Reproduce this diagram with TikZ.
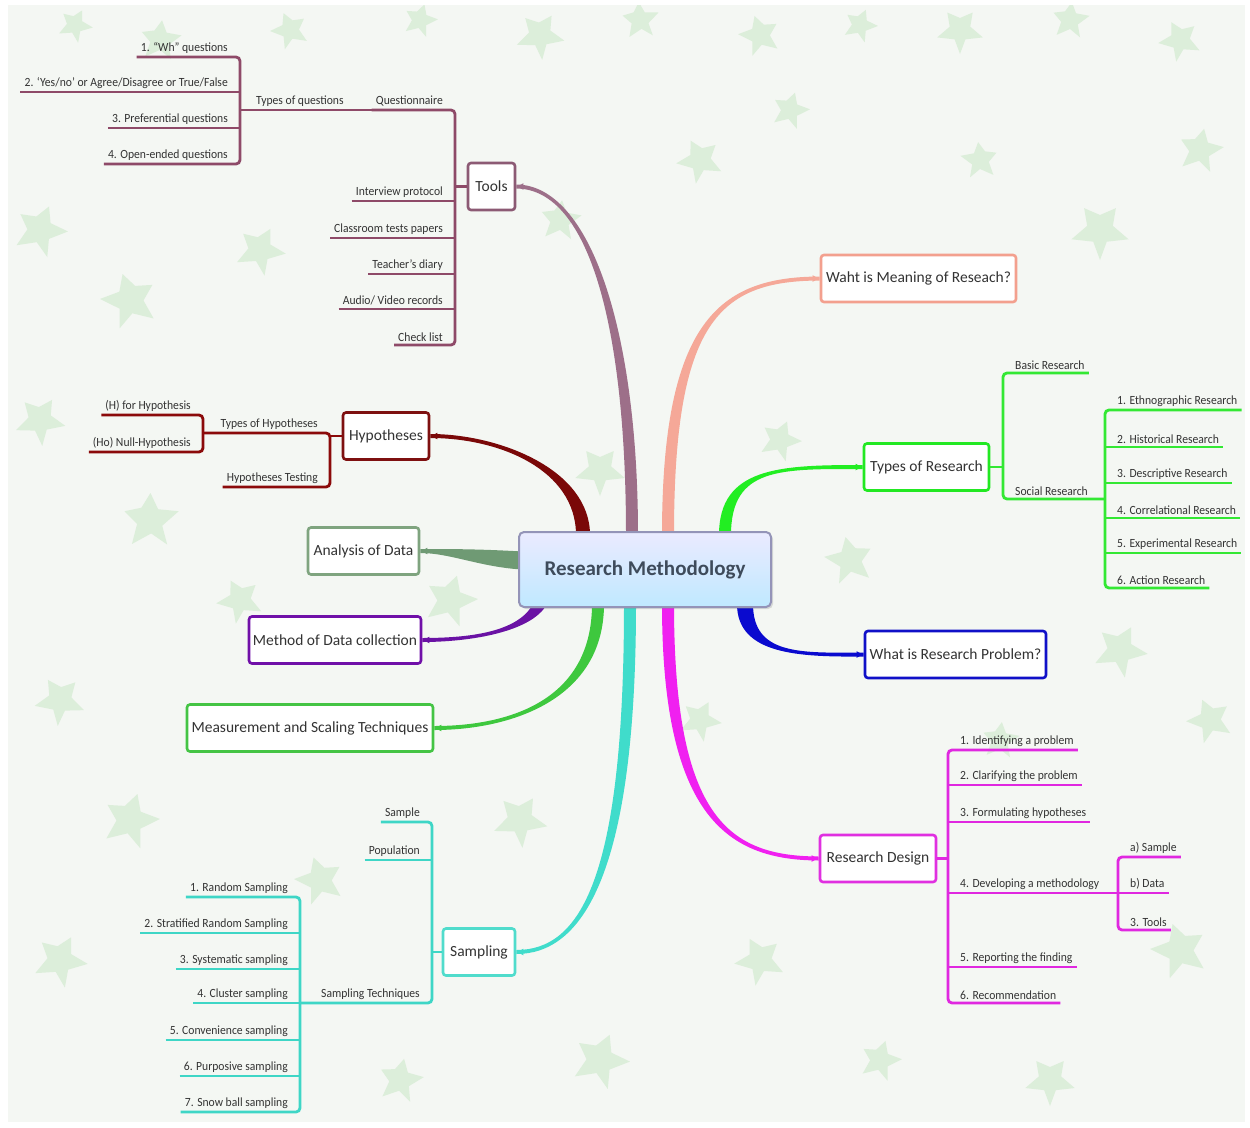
\documentclass[tikz,border=0pt]{standalone}
\usepackage{fontspec}
\setmainfont{Carlito}
\newfontfamily\labfont{Carlito}[FakeStretch=0.93]
\usetikzlibrary{calc,arrows.meta,shadows}
\definecolor{bgc}{HTML}{F4F7F3}
\definecolor{leafc}{HTML}{DCEEDA}
\definecolor{txt}{HTML}{333333}
\definecolor{roottxt}{HTML}{3E4B5B}
% node borders
\definecolor{nTools}{HTML}{8C5A74}
\definecolor{nMean}{HTML}{F3A08E}
\definecolor{nTor}{HTML}{22E822}
\definecolor{nRp}{HTML}{1010C8}
\definecolor{nRd}{HTML}{E030E0}
\definecolor{nSamp}{HTML}{50DCCC}
\definecolor{nMst}{HTML}{44C444}
\definecolor{nMdc}{HTML}{7010A8}
\definecolor{nAod}{HTML}{7FA47F}
\definecolor{nHyp}{HTML}{7E1010}
% branches
\definecolor{bTools}{HTML}{9D6F89}
\definecolor{bMean}{HTML}{F5A898}
\definecolor{bTor}{HTML}{22EE22}
\definecolor{bRp}{HTML}{0A0ACF}
\definecolor{bRd}{HTML}{F020F0}
\definecolor{bSamp}{HTML}{40DCCB}
\definecolor{bMst}{HTML}{3EC83E}
\definecolor{bMdc}{HTML}{6A12A4}
\definecolor{bAod}{HTML}{6F9A74}
\definecolor{bHyp}{HTML}{7A0808}
% sub lines
\definecolor{lTools}{HTML}{8E4A68}
\definecolor{lHyp}{HTML}{8B0A0A}
\definecolor{lTor}{HTML}{33E833}
\definecolor{lRd}{HTML}{E028E0}
\definecolor{lSamp}{HTML}{3ED6C6}
\pgfdeclarelayer{back}
\pgfdeclarelayer{links}
\pgfsetlayers{back,links,main}
\newcommand\mybranch[8]{%
  \fill[#1] ($(#2)+#6$) .. controls ($#3+#6$) and ($#4+#7$) .. ($(#5)+#7$)
     -- ($(#5)-#7$) .. controls ($#4-#7$) and ($#3-#6$) .. ($(#2)-#6$) -- cycle;
  \draw[#1, line width=1.6pt, -{Latex[length=7pt,width=7pt]}] ($(#5)+#8$) -- (#5);
}
\tikzset{
  leaf/.pic={\fill[leafc] (90:1) -- (120:0.45) -- (162:1) -- (198:0.45) -- (234:0.9)
     -- (270:0.5) -- (306:0.9) -- (342:0.45) -- (18:1) -- (60:0.45) -- cycle;},
  labL/.style={font=\labfont\fontsize{12.5}{14}\selectfont, text=txt, inner xsep=4pt, inner ysep=3.5pt, anchor=south east},
  labR/.style={font=\labfont\fontsize{12.5}{14}\selectfont, text=txt, inner xsep=4pt, inner ysep=3.5pt, anchor=south west},
  mnode/.style={draw=#1, line width=2.6pt, rounded corners=3pt, fill=white, text=txt,
     font=\fontsize{15.5}{18}\selectfont, minimum height=47pt, inner sep=2pt},
  sl/.style={line width=2.8pt, draw=#1},
  slr/.style={line width=2.8pt, draw=#1, rounded corners=4pt},
}
\begin{document}
\begin{tikzpicture}[x=1pt,y=-1pt]
\useasboundingbox (0,0) rectangle (1250,1127);
\begin{pgfonlayer}{back}
\fill[white] (0,0) rectangle (1250,1127);
\fill[bgc] (8,5) rectangle (1245,1122);
\begin{scope}
\clip (8,5) rectangle (1245,1122);
\foreach \x/\y/\s/\r in {75/25/18/10,160/40/22/30,290/30/20/-15,420/20/18/20,540/35/25/5,640/20/20/40,760/35/22/-20,860/25/18/15,960/30/24/0,1070/20/20/30,1180/40/22/-10,
  40/230/28/15,130/300/30/-20,260/250/26/10,560/220/22/30,700/160/24/-10,790/110/20/20,1100/230/30/0,1200/150/24/25,980/160/20/-30,
  40/420/26/5,150/520/30/35,240/600/24/-10,450/600/28/20,600/470/26/0,780/440/22/15,850/560/26/-25,1120/650/28/10,1210/720/24/-15,1000/740/20/30,
  60/700/26/-5,130/820/30/20,60/960/28/10,320/880/26/-20,520/820/28/5,600/1060/30/15,760/960/26/-10,880/1060/22/20,1050/1080/26/0,1180/950/30/-20,400/1080/24/25,700/720/22/10}
  \pic[scale=\s, rotate=\r] at (\x,\y) {leaf};
\end{scope}
\end{pgfonlayer}

% root
\node[draw=gray!80!blue!70, line width=2pt, rounded corners=5pt, top color=blue!8!white, bottom color=blue!35!cyan!25!white,
  minimum width=252pt, minimum height=75pt, text=roottxt, font=\fontsize{21}{24}\selectfont\bfseries,
  drop shadow={opacity=0.25, shadow xshift=2pt, shadow yshift=-2pt}] (root) at (645,569.5) {Research Methodology};

% main nodes
\node[mnode=nTools, minimum width=47pt] (tools) at (491.5,186.5) {Tools};
\node[mnode=nMean, minimum width=195pt] (mean) at (918.5,278.5) {Waht is Meaning of Reseach?};
\node[mnode=nTor, minimum width=125pt] (tor) at (926.5,467) {Types of Research};
\node[mnode=nRp, minimum width=181pt] (rp) at (955.5,654.5) {What is Research Problem?};
\node[mnode=nRd, minimum width=116pt] (rd) at (878,858.5) {Research Design};
\node[mnode=nSamp, minimum width=72pt] (samp) at (479,952) {Sampling};
\node[mnode=nMst, minimum width=246pt] (mst) at (310,728) {Measurement and Scaling Techniques};
\node[mnode=nMdc, minimum width=172pt] (mdc) at (335,640) {Method of Data collection};
\node[mnode=nAod, minimum width=111pt] (aod) at (363.5,551) {Analysis of Data};
\node[mnode=nHyp, minimum width=86pt] (hyp) at (386,436) {Hypotheses};

% branch starts
\coordinate (sHyp) at ($(root.north)+(-62,4)$);
\coordinate (sTools) at ($(root.north)+(-13,4)$);
\coordinate (sMean) at ($(root.north)+(23,4)$);
\coordinate (sTor) at ($(root.north)+(80,4)$);
\coordinate (sRp) at ($(root.south)+(100,-4)$);
\coordinate (sRd) at ($(root.south)+(23,-4)$);
\coordinate (sSamp) at ($(root.south)+(-15,-4)$);
\coordinate (sMst) at ($(root.south)+(-47,-4)$);
\coordinate (sMdc) at ($(root.south)+(-105,-4)$);
\coordinate (sAod) at ($(root.west)+(4,-9)$);

\begin{pgfonlayer}{links}
\mybranch{bHyp}{sHyp}{(583,470)}{(500,436)}{hyp.east}{(-7,0)}{(0,2)}{(9,0)}
\mybranch{bTools}{sTools}{(632,330)}{(590,187)}{tools.east}{(-6,0)}{(0,2)}{(9,0)}
\mybranch{bMean}{sMean}{(668,320)}{(720,279)}{mean.west}{(-6,0)}{(0,-2)}{(-9,0)}
\mybranch{bTor}{sTor}{(725,467)}{(780,467)}{tor.west}{(-6,0)}{(0,-2)}{(-9,0)}
\mybranch{bRp}{sRp}{(745,655)}{(800,655)}{rp.west}{(8,0)}{(0,-2)}{(-9,0)}
\mybranch{bRd}{sRd}{(668,820)}{(730,858)}{rd.west}{(6,0)}{(0,-2)}{(-9,0)}
\mybranch{bSamp}{sSamp}{(630,880)}{(580,952)}{samp.east}{(6,0)}{(0,2)}{(9,0)}
\mybranch{bMst}{sMst}{(598,700)}{(510,728)}{mst.east}{(6,0)}{(0,2)}{(9,0)}
\mybranch{bMdc}{sMdc}{(525,632)}{(470,640)}{mdc.east}{(7,0)}{(0,2)}{(9,0)}
\mybranch{bAod}{sAod}{(480,558)}{(450,551)}{aod.east}{(0,9)}{(0,2)}{(9,0)}
\end{pgfonlayer}

% ---- Tools subtree
\coordinate (tb) at (455,0);
\coordinate (tq) at (240,0);
\node[labL] (quest) at (447,110) {Questionnaire};
\node[labL] (ip) at (447,201) {Interview protocol};
\node[labL] (ctp) at (447,238) {Classroom tests papers};
\node[labL] (td) at (447,274) {Teacher’s diary};
\node[labL] (avr) at (447,309) {Audio/ Video records};
\node[labL] (cl) at (447,345) {Check list};
\node[labR] (toq) at (252,110) {Types of questions};
\node[labL] (q1) at (232,57) {1. “Wh” questions};
\node[labL] (q2) at (232,92) {2. ‘Yes/no’ or Agree/Disagree or True/False};
\node[labL] (q3) at (232,128) {3. Preferential questions};
\node[labL] (q4) at (232,164) {4. Open-ended questions};
\draw[slr=lTools] (quest.south west) -| (tb |- cl.south) -- (cl.south west);
\draw[sl=lTools] (tq |- toq.south) -- (quest.south west);
\foreach \n in {ip,ctp,td,avr} \draw[sl=lTools] (\n.south west) -- (tb |- \n.south);
\draw[sl=lTools] (tools.west) -- (tb |- tools.west);
\draw[slr=lTools] (q1.south west) -| (tq |- q4.south) -- (q4.south west);
\foreach \n in {q2,q3} \draw[sl=lTools] (\n.south west) -- (tq |- \n.south);

% ---- Hypotheses subtree
\coordinate (hb) at (330,0);
\coordinate (hbb) at (203,0);
\node[labL] (toh) at (322,433) {Types of Hypotheses};
\node[labL] (ht) at (322,487) {Hypotheses Testing};
\node[labL] (h1) at (195,415) {(H) for Hypothesis};
\node[labL] (h2) at (195,452) {(Ho) Null-Hypothesis};
\draw[slr=lHyp] (hbb |- toh.south) -- (hb |- toh.south) -- (hb |- ht.south) -- (ht.south west);
\draw[sl=lHyp] (hyp.west) -- (hb |- hyp.west);
\draw[slr=lHyp] (h1.south west) -| (hbb |- h2.south) -- (h2.south west);

% ---- Types of Research subtree
\coordinate (rb) at (1003,0);
\coordinate (rbb) at (1105,0);
\node[labR] (basic) at (1011,373) {Basic Research};
\node[labR] (soc) at (1011,499) {Social Research};
\node[labR] (e1) at (1113,410) {1. Ethnographic Research};
\node[labR] (e2) at (1113,447) {2. Historical Research};
\node[labR] (e3) at (1113,483) {3. Descriptive Research};
\node[labR] (e4) at (1113,518) {4. Correlational Research};
\node[labR] (e5) at (1113,553) {5. Experimental Research};
\node[labR] (e6) at (1113,588) {6. Action Research};
\draw[slr=lTor] (basic.south east) -| (rb |- soc.south) -- (rbb |- soc.south);
\draw[sl=lTor] (tor.east) -- (rb |- tor.east);
\draw[slr=lTor] (e1.south east) -| (rbb |- e6.south) -- (e6.south east);
\foreach \n in {e2,e3,e4,e5} \draw[sl=lTor] (rbb |- \n.south) -- (\n.south east);

% ---- Research Design subtree
\coordinate (db) at (948,0);
\coordinate (dbb) at (1118,0);
\node[labR] (d1) at (956,750) {1. Identifying a problem};
\node[labR] (d2) at (956,785) {2. Clarifying the problem};
\node[labR] (d3) at (956,822) {3. Formulating hypotheses};
\node[labR] (d4) at (956,893) {4. Developing a methodology};
\node[labR] (d5) at (956,967) {5. Reporting the finding};
\node[labR] (d6) at (956,1003) {6. Recommendation};
\node[labR] (a1) at (1126,857) {a) Sample};
\node[labR] (a2) at (1126,893) {b) Data};
\node[labR] (a3) at (1126,930) {3. Tools};
\draw[slr=lRd] (d1.south east) -| (db |- d6.south) -- (d6.south east);
\foreach \n in {d2,d3,d5} \draw[sl=lRd] (db |- \n.south) -- (\n.south east);
\draw[sl=lRd] (db |- d4.south) -- (dbb |- d4.south);
\draw[sl=lRd] (rd.east) -- (db |- rd.east);
\draw[slr=lRd] (a1.south east) -| (dbb |- a3.south) -- (a3.south east);
\draw[sl=lRd] (dbb |- a2.south) -- (a2.south east);

% ---- Sampling subtree
\coordinate (sb) at (432,0);
\coordinate (sbb) at (300,0);
\node[labL] (sam) at (424,822) {Sample};
\node[labL] (pop) at (424,860) {Population};
\node[labL] (st) at (424,1003) {Sampling Techniques};
\node[labL] (s1) at (292,897) {1. Random Sampling};
\node[labL] (s2) at (292,933) {2. Stratified Random Sampling};
\node[labL] (s3) at (292,969) {3. Systematic sampling};
\node[labL] (s4) at (292,1003) {4. Cluster sampling};
\node[labL] (s5) at (292,1040) {5. Convenience sampling};
\node[labL] (s6) at (292,1076) {6. Purposive sampling};
\node[labL] (s7) at (292,1112) {7. Snow ball sampling};
\draw[slr=lSamp] (sam.south west) -| (sb |- st.south) -- (sbb |- st.south);
\draw[sl=lSamp] (pop.south west) -- (sb |- pop.south);
\draw[sl=lSamp] (samp.west) -- (sb |- samp.west);
\draw[slr=lSamp] (s1.south west) -| (sbb |- s7.south) -- (s7.south west);
\foreach \n in {s2,s3,s4,s5,s6} \draw[sl=lSamp] (\n.south west) -- (sbb |- \n.south);
\end{tikzpicture}
\end{document}
